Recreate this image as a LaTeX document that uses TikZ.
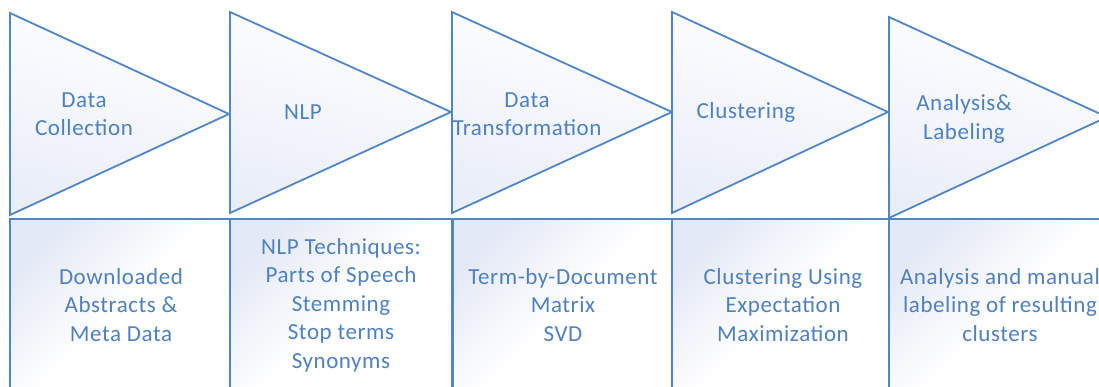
\documentclass[tikz,border=0pt]{standalone}
\usepackage{fontspec}
\setmainfont{Carlito}[LetterSpace=2.5]
\usepackage{tikz}
\definecolor{stageblue}{RGB}{80,134,194}
\definecolor{textblue}{RGB}{79,129,189}
\definecolor{paleblue}{RGB}{228,233,246}
\definecolor{tipblue}{RGB}{234,238,249}
\tikzset{
    % triangle of one stage
    stagetri/.style={
        draw=stageblue,
        line width=1.8pt,
        line join=miter,
        shading=axis,
        left color=white,
        middle color=white,
        right color=tipblue,
        shading angle=-15
    },
    % box under a stage
    detailbox/.style={
        draw=stageblue,
        line width=1.8pt,
        shading=axis,
        top color=paleblue,
        bottom color=white,
        middle color=white,
        shading angle=45
    },
    stagetext/.style={
        text=textblue,
        align=center,
        inner sep=0pt,
        font=\fontsize{23}{28.5}\selectfont
    }
}

\begin{document}
\begin{tikzpicture}[x=1pt, y=-1pt]
	\useasboundingbox (0,0) rectangle (1099,386);
	\clip (0,0) rectangle (1099,386);

	% lower boxes
	\shade[detailbox] (10,219) rectangle (230,400);
	\shade[detailbox] (230,219) rectangle (452,400);
	\shade[detailbox] (452,219) rectangle (672,400);
	\shade[detailbox] (672,219) rectangle (889,400);
	\shade[detailbox] (889,219) rectangle (1120,400);
	\draw[stageblue, line width=3pt] (452,219) -- (452,400);

	% stages
	\shade[stagetri] (10,13) -- (229,114) -- (10,215) -- cycle;
	\shade[stagetri] (230,12) -- (451,112) -- (230,213) -- cycle;
	\shade[stagetri] (452,12) -- (672,112) -- (452,213) -- cycle;
	\shade[stagetri] (672,12) -- (888,112) -- (672,213) -- cycle;
	\shade[stagetri] (889,17) -- (1107,117) -- (889,218) -- cycle;

	\node [stagetext] (collect) at (84,114) {Data\\Collection};
	\node [stagetext] (nlp) at (303,112) {NLP};
	\node [stagetext] (transform) at (527,114) {Data\\Transformation};
	\node [stagetext] (cluster) at (746,112) {Clustering};
	\node [stagetext] (analysis) at (964,119) {Analysis\&\\Labeling};

	\node [stagetext] (collectbox) at (121,305) {Downloaded\\Abstracts \&\\Meta Data};
	\node [stagetext] (nlpbox) at (341,305) {NLP Techniques:\\Parts of Speech\\Stemming\\Stop terms\\Synonyms};
	\node [stagetext] (transformbox) at (563,305) {Term-by-Document\\Matrix\\SVD};
	\node [stagetext] (clusterbox) at (783,305) {Clustering Using\\Expectation\\Maximization};
	\node [stagetext] (analysisbox) at (1000,305) {Analysis and manual\\labeling of resulting\\clusters};
\end{tikzpicture}
\end{document}
